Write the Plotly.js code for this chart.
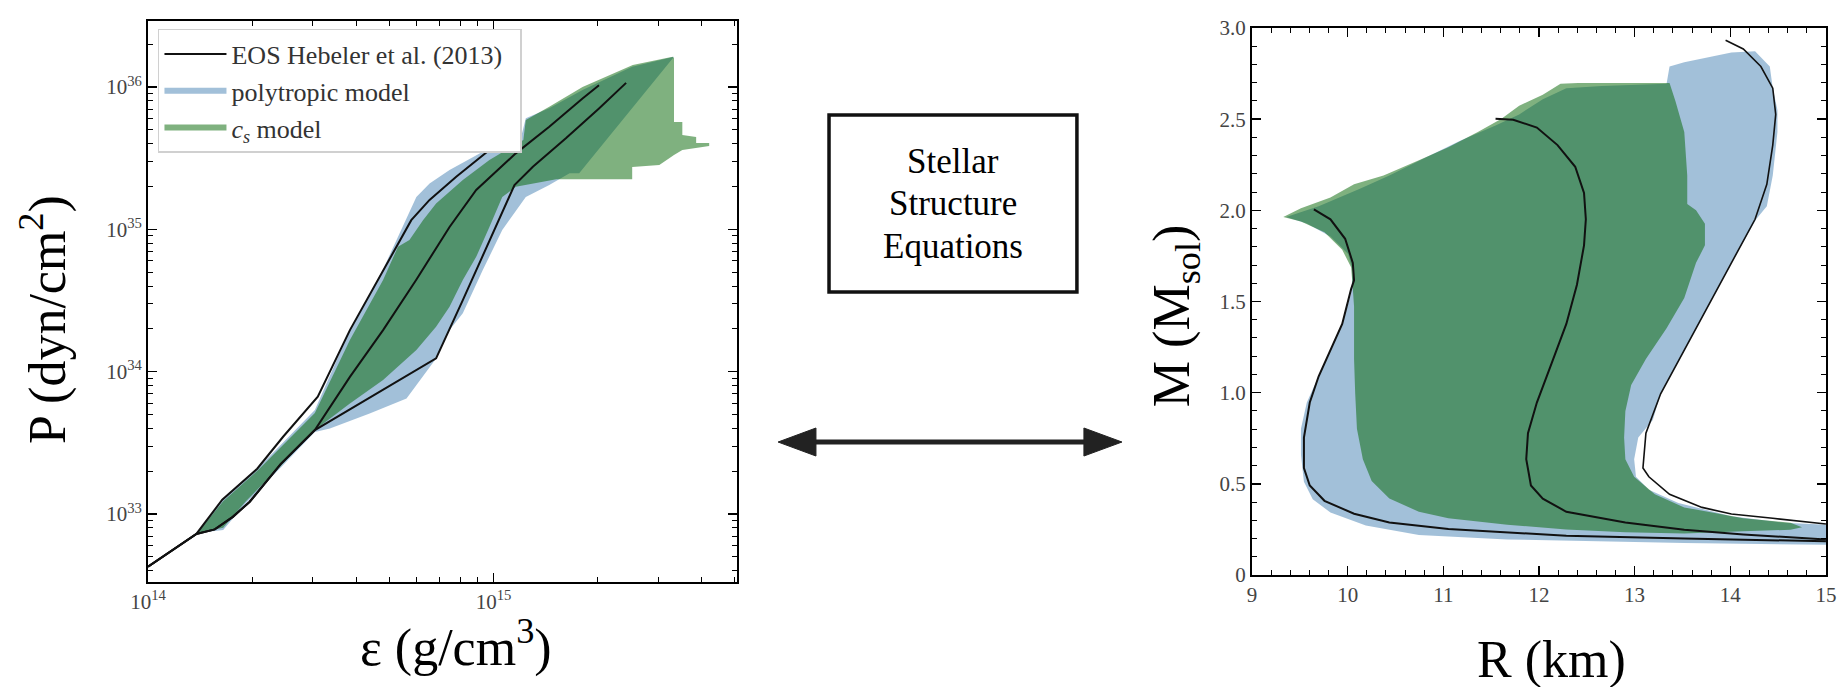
<!DOCTYPE html>
<html>
<head>
<meta charset="utf-8">
<script src="https://cdn.plot.ly/plotly-3.0.1.min.js"></script>
<style>html,body{margin:0;padding:0;background:#fff;}#chart{width:1839px;height:687px;}</style>
</head>
<body>
<div id="chart"></div>
<script>
// ---------- Left panel: EOS, P(eps) ----------
const epsStiff = [1.00e14, 1.38e14, 1.64e14, 2.07e14, 2.46e14, 3.10e14, 3.84e14, 4.79e14, 5.35e14, 5.78e14, 6.53e14, 7.80e14, 9.73e14, 1.02e15];
const pStiff   = [4.27e32, 7.24e32, 1.26e33, 2.08e33, 3.49e33, 6.67e33, 1.96e34, 5.18e34, 8.41e34, 1.16e35, 1.61e35, 2.34e35, 3.61e35, 4.00e35];

const epsMid = [1.00e14, 1.38e14, 1.56e14, 1.76e14, 1.97e14, 2.42e14, 3.04e14, 3.84e14, 4.79e14, 5.97e14, 7.46e14, 8.91e14, 1.16e15, 1.45e15, 1.81e15, 2.02e15];
const pMid   = [4.27e32, 7.24e32, 7.80e32, 9.55e32, 1.22e33, 2.24e33, 3.89e33, 9.20e33, 1.96e34, 4.41e34, 1.04e35, 1.89e35, 3.42e35, 5.26e35, 8.32e35, 1.03e36];

const epsSoft = [1.00e14, 1.38e14, 1.56e14, 1.76e14, 1.97e14, 2.42e14, 3.04e14, 6.82e14, 8.15e14, 9.73e14, 1.15e15, 1.30e15, 1.62e15, 2.02e15, 2.42e15];
const pSoft   = [4.27e32, 7.24e32, 7.80e32, 9.55e32, 1.22e33, 2.24e33, 3.89e33, 1.24e34, 3.18e34, 8.41e34, 2.05e35, 2.75e35, 4.36e35, 7.08e35, 1.07e36];

const epsPolyBand = [1.39e14, 1.64e14, 2.08e14, 3.04e14, 3.84e14, 4.78e14, 5.24e14, 5.98e14, 6.53e14, 7.46e14, 9.31e14, 1.21e15, 1.24e15, 1.45e15, 1.81e15, 2.52e15, 3.33e15,
                     1.77e15, 1.66e15, 1.45e15, 1.24e15, 1.11e15, 1.06e15, 9.31e14, 8.15e14, 7.46e14, 6.82e14, 5.60e14, 4.38e14, 3.36e14, 3.04e14, 2.43e14, 1.92e14, 1.65e14];
const pPolyBand   = [7.35e32, 1.27e33, 2.10e33, 5.37e33, 1.96e34, 5.18e34, 8.41e34, 1.69e35, 2.10e35, 2.61e35, 3.51e35, 4.75e35, 6.03e35, 7.11e35, 9.53e35, 1.39e36, 1.63e36,
                     2.48e35, 2.48e35, 2.05e35, 1.69e35, 1.16e35, 9.89e34, 5.18e34, 2.57e34, 1.96e34, 1.24e34, 6.49e33, 5.09e33, 3.99e33, 3.77e33, 2.14e33, 1.19e33, 7.71e32];

const epsCsBand = [1.39e14, 1.65e14, 2.08e14, 3.04e14, 3.84e14, 4.79e14, 5.29e14, 5.71e14, 6.25e14, 6.82e14, 8.15e14, 9.73e14, 1.22e15, 1.24e15, 1.45e15, 1.81e15, 2.53e15, 3.30e15,
                   3.33e15, 3.33e15, 3.52e15, 3.52e15, 3.86e15, 3.86e15, 4.21e15, 4.21e15, 3.52e15, 3.33e15, 3.02e15, 2.52e15, 2.52e15, 1.52e15,
                   1.16e15, 1.06e15, 9.73e14, 8.91e14, 8.15e14, 7.46e14, 6.82e14, 5.98e14, 4.79e14, 3.84e14, 3.04e14, 2.43e14, 1.92e14, 1.65e14];
const pCsBand   = [7.35e32, 1.23e33, 2.03e33, 5.12e33, 1.67e34, 4.41e34, 7.55e34, 8.41e34, 1.16e35, 1.52e35, 2.22e35, 3.07e35, 4.25e35, 5.86e35, 7.28e35, 1.00e36, 1.43e36, 1.63e36,
                   1.60e36, 5.68e35, 5.68e35, 4.60e35, 4.46e35, 4.04e35, 4.04e35, 3.85e35, 3.61e35, 3.33e35, 2.83e35, 2.74e35, 2.25e35, 2.25e35,
                   1.99e35, 1.69e35, 1.04e35, 6.41e34, 4.41e34, 2.86e34, 2.07e34, 1.42e34, 8.73e33, 5.98e33, 3.89e33, 2.19e33, 1.23e33, 8.02e32];

const epsTickVals = [1e14, 1e15];
const epsTickText = ['10<sup>14</sup>', '10<sup>15</sup>'];
const epsMinorVals = [2e14, 3e14, 4e14, 5e14, 6e14, 7e14, 8e14, 9e14, 2e15, 3e15, 4e15, 5e15];
const pTickVals = [1e33, 1e34, 1e35, 1e36];
const pTickText = ['10<sup>33</sup>', '10<sup>34</sup>', '10<sup>35</sup>', '10<sup>36</sup>'];
const pMinorVals = [2e32, 3e32, 4e32, 5e32, 6e32, 7e32, 8e32, 9e32, 2e33, 3e33, 4e33, 5e33, 6e33, 7e33, 8e33, 9e33,
                    2e34, 3e34, 4e34, 5e34, 6e34, 7e34, 8e34, 9e34, 2e35, 3e35, 4e35, 5e35, 6e35, 7e35, 8e35, 9e35, 2e36];

// ---------- Right panel: M(R) ----------
const rSoft = [9.647, 9.82, 9.974, 10.054, 10.067, 10.036, 9.943, 9.82, 9.697, 9.604, 9.543, 9.543, 9.604, 9.758, 10.067, 10.436, 11.053, 12.286, 13.519, 15.0];
const mSoft = [2.006, 1.951, 1.844, 1.712, 1.616, 1.568, 1.377, 1.233, 1.09, 0.946, 0.754, 0.587, 0.491, 0.407, 0.336, 0.288, 0.252, 0.216, 0.200, 0.185];

const rMid = [11.546, 11.731, 11.978, 12.194, 12.379, 12.471, 12.49, 12.471, 12.397, 12.286, 12.132, 11.978, 11.885, 11.867, 11.916, 12.04, 12.286, 12.903, 13.519, 14.136, 15.0];
const mMid = [2.502, 2.497, 2.454, 2.358, 2.239, 2.095, 1.951, 1.808, 1.592, 1.377, 1.161, 0.946, 0.778, 0.635, 0.491, 0.419, 0.347, 0.288, 0.248, 0.222, 0.195];

const rStiff = [13.951, 14.136, 14.32, 14.444, 14.475, 14.444, 14.382, 14.259, 14.012, 13.766, 13.519, 13.272, 13.118, 13.087, 13.149, 13.365, 13.704, 14.012, 14.444, 15.0];
const mStiff = [2.933, 2.885, 2.789, 2.670, 2.526, 2.358, 2.143, 1.951, 1.712, 1.473, 1.233, 0.994, 0.778, 0.587, 0.539, 0.443, 0.371, 0.335, 0.311, 0.280];

const rPolyBand = [9.358, 9.697, 10.128, 10.436, 10.806, 11.176, 11.546, 11.793, 12.04, 12.286, 12.656, 13.334, 13.365, 13.519, 14.012, 14.259, 14.413, 14.444, 14.493, 14.493, 14.444, 14.382, 14.27,
                   14.012, 13.766, 13.519, 13.272, 13.19, 13.038, 12.995, 13.014, 13.149, 13.457, 14.012, 14.567, 15.05, 15.05,
                   13.519, 11.669, 10.745, 10.19, 9.82, 9.635, 9.543, 9.512, 9.512, 9.573, 9.697, 9.82, 9.943, 10.036, 10.054, 10.005, 9.82, 9.573];
const mPolyBand = [1.963, 2.023, 2.119, 2.191, 2.287, 2.382, 2.466, 2.526, 2.610, 2.670, 2.682, 2.694, 2.789, 2.813, 2.866, 2.873, 2.789, 2.670, 2.550, 2.430, 2.191, 2.023, 1.951,
                   1.712, 1.473, 1.233, 0.994, 0.850, 0.754, 0.635, 0.539, 0.467, 0.395, 0.323, 0.287, 0.275, 0.165,
                   0.175, 0.195, 0.220, 0.272, 0.343, 0.415, 0.512, 0.659, 0.802, 0.946, 1.090, 1.233, 1.377, 1.544, 1.664, 1.760, 1.856, 1.928];

const rCsBand = [9.327, 9.512, 9.82, 10.067, 10.375, 10.745, 11.053, 11.361, 11.608, 11.793, 12.04, 12.225, 12.41, 13.365, 13.427, 13.519, 13.55, 13.55, 13.642, 13.735, 13.735, 13.642, 13.519, 13.334,
                 13.118, 12.964, 12.903, 12.89, 12.903, 12.995, 13.211, 13.519, 14.136, 14.629, 14.75,
                 14.629, 14.136, 13.519, 12.903, 12.286, 11.669, 11.053, 10.745, 10.436, 10.251, 10.159, 10.097, 10.079, 10.067, 10.067, 10.05, 10.036, 9.943, 9.758, 9.512];
const mCsBand = [1.963, 2.011, 2.071, 2.143, 2.191, 2.275, 2.346, 2.430, 2.502, 2.574, 2.634, 2.694, 2.698, 2.698, 2.598, 2.430, 2.191, 2.035, 2.000, 1.927, 1.808, 1.712, 1.520, 1.353,
                 1.185, 1.042, 0.898, 0.754, 0.635, 0.539, 0.443, 0.371, 0.311, 0.287, 0.262,
                 0.248, 0.240, 0.228, 0.235, 0.250, 0.276, 0.311, 0.347, 0.419, 0.515, 0.635, 0.802, 0.994, 1.185, 1.473, 1.600, 1.688, 1.784, 1.880, 1.939];

const rTickVals = [9, 10, 11, 12, 13, 14, 15];
const rTickText = ['9', '10', '11', '12', '13', '14', '15'];
const mTickVals = [0, 0.5, 1.0, 1.5, 2.0, 2.5, 3.0];
const mTickText = ['0', '0.5', '1.0', '1.5', '2.0', '2.5', '3.0'];

// ---------- Styles ----------
const polyFill = 'rgba(70,130,180,0.5)';
const csFill = 'rgba(0,100,0,0.5)';
const curveColor = '#111111';
const serif = 'Liberation Serif, Times New Roman, serif';

const traces = [
  {x: epsPolyBand, y: pPolyBand, xaxis: 'x', yaxis: 'y', type: 'scatter', mode: 'none', fill: 'toself', fillcolor: polyFill,
   name: 'polytropic model', legendrank: 2, hoverinfo: 'skip'},
  {x: epsCsBand, y: pCsBand, xaxis: 'x', yaxis: 'y', type: 'scatter', mode: 'none', fill: 'toself', fillcolor: csFill,
   name: '<i>c</i><sub><i>s</i></sub> model', legendrank: 3, hoverinfo: 'skip'},
  {x: epsStiff, y: pStiff, xaxis: 'x', yaxis: 'y', type: 'scatter', mode: 'lines', line: {color: curveColor, width: 2},
   name: 'EOS Hebeler et al. (2013)&nbsp;&nbsp;', legendgroup: 'eos', legendrank: 1},
  {x: epsMid, y: pMid, xaxis: 'x', yaxis: 'y', type: 'scatter', mode: 'lines', line: {color: curveColor, width: 2},
   legendgroup: 'eos', showlegend: false},
  {x: epsSoft, y: pSoft, xaxis: 'x', yaxis: 'y', type: 'scatter', mode: 'lines', line: {color: curveColor, width: 2},
   legendgroup: 'eos', showlegend: false},

  {x: rPolyBand, y: mPolyBand, xaxis: 'x2', yaxis: 'y2', type: 'scatter', mode: 'none', fill: 'toself', fillcolor: polyFill,
   showlegend: false, hoverinfo: 'skip'},
  {x: rCsBand, y: mCsBand, xaxis: 'x2', yaxis: 'y2', type: 'scatter', mode: 'none', fill: 'toself', fillcolor: csFill,
   showlegend: false, hoverinfo: 'skip'},
  {x: rSoft, y: mSoft, xaxis: 'x2', yaxis: 'y2', type: 'scatter', mode: 'lines', line: {color: curveColor, width: 2}, showlegend: false},
  {x: rMid, y: mMid, xaxis: 'x2', yaxis: 'y2', type: 'scatter', mode: 'lines', line: {color: curveColor, width: 2}, showlegend: false},
  {x: rStiff, y: mStiff, xaxis: 'x2', yaxis: 'y2', type: 'scatter', mode: 'lines', line: {color: curveColor, width: 1.6}, showlegend: false}
];

function axisBase(extra) {
  const base = {
    showline: true, linecolor: '#000', linewidth: 2, mirror: 'ticks',
    ticks: 'inside', ticklen: 9, tickwidth: 1.5, tickcolor: '#000',
    showgrid: false, zeroline: false, tickmode: 'array',
    tickfont: {family: serif, size: 21, color: '#444'}
  };
  return Object.assign(base, extra);
}
function minorBase(extra) {
  return Object.assign({ticks: 'inside', ticklen: 5, tickwidth: 1, tickcolor: '#000', showgrid: false}, extra);
}

const layout = {
  width: 1839, height: 687,
  margin: {l: 0, r: 0, t: 0, b: 0},
  paper_bgcolor: '#ffffff', plot_bgcolor: '#ffffff',
  font: {family: serif, color: '#000', size: 16},
  showlegend: true,
  legend: {x: 0.0859, y: 0.9578, xanchor: 'left', yanchor: 'top', bgcolor: '#ffffff',
           bordercolor: '#d0d0d0', borderwidth: 1.5, itemwidth: 62,
           font: {family: serif, size: 26, color: '#333'}, traceorder: 'normal'},
  xaxis: axisBase({domain: [0.0805, 0.4008], type: 'log', range: [14, 15.705], anchor: 'y',
          tickvals: epsTickVals, ticktext: epsTickText,
          minor: minorBase({tickmode: 'array', tickvals: epsMinorVals})}),
  yaxis: axisBase({domain: [0.1528, 0.9694], type: 'log', range: [32.522, 36.464], anchor: 'x',
          tickvals: pTickVals, ticktext: pTickText,
          minor: minorBase({tickmode: 'array', tickvals: pMinorVals})}),
  xaxis2: axisBase({domain: [0.6808, 0.9929], range: [9, 15], anchor: 'y2',
          tickvals: rTickVals, ticktext: rTickText,
          minor: minorBase({dtick: 0.2})}),
  yaxis2: axisBase({domain: [0.1630, 0.9592], range: [0, 3], anchor: 'x2',
          tickvals: mTickVals, ticktext: mTickText,
          minor: minorBase({dtick: 0.1})}),
  shapes: [
    {type: 'rect', xref: 'paper', yref: 'paper', x0: 0.4508, x1: 0.5856, y0: 0.5750, y1: 0.8326,
     line: {color: '#111', width: 3.5}, fillcolor: 'rgba(0,0,0,0)'},
    {type: 'line', xref: 'paper', yref: 'paper', x0: 0.4430, x1: 0.5900, y0: 0.3566, y1: 0.3566,
     line: {color: '#222', width: 5}},
    {type: 'path', xref: 'paper', yref: 'paper', path: 'M 0.4231 0.3566 L 0.4437 0.3770 L 0.4437 0.3362 Z',
     fillcolor: '#222', line: {color: '#222', width: 1}},
    {type: 'path', xref: 'paper', yref: 'paper', path: 'M 0.6101 0.3566 L 0.5894 0.3770 L 0.5894 0.3362 Z',
     fillcolor: '#222', line: {color: '#222', width: 1}}
  ],
  annotations: [
    {text: 'P (dyn/cm<sup>2</sup>)', xref: 'paper', yref: 'paper', x: 0.0239, y: 0.5357, xanchor: 'center', yanchor: 'middle',
     textangle: -90, showarrow: false, font: {family: serif, size: 52, color: '#000'}},
    {text: 'ε (g/cm<sup>3</sup>)', xref: 'paper', yref: 'paper', x: 0.248, y: 0.0626, xanchor: 'center', yanchor: 'middle',
     showarrow: false, font: {family: serif, size: 52, color: '#000'}},
    {text: 'R (km)', xref: 'paper', yref: 'paper', x: 0.8439, y: 0.0393, xanchor: 'center', yanchor: 'middle',
     showarrow: false, font: {family: serif, size: 52, color: '#000'}},
    {text: 'M (M<sub>sol</sub>)', xref: 'paper', yref: 'paper', x: 0.639, y: 0.54, xanchor: 'center', yanchor: 'middle',
     textangle: -90, showarrow: false, font: {family: serif, size: 52, color: '#000'}},
    {text: 'Stellar', xref: 'paper', yref: 'paper', x: 0.5182, y: 0.7642, xanchor: 'center', yanchor: 'middle',
     showarrow: false, font: {family: serif, size: 35, color: '#000'}},
    {text: 'Structure', xref: 'paper', yref: 'paper', x: 0.5182, y: 0.7045, xanchor: 'center', yanchor: 'middle',
     showarrow: false, font: {family: serif, size: 35, color: '#000'}},
    {text: 'Equations', xref: 'paper', yref: 'paper', x: 0.5182, y: 0.6405, xanchor: 'center', yanchor: 'middle',
     showarrow: false, font: {family: serif, size: 35, color: '#000'}}
  ]
};

Plotly.newPlot('chart', traces, layout, {displayModeBar: false, staticPlot: true});
</script>
</body>
</html>
